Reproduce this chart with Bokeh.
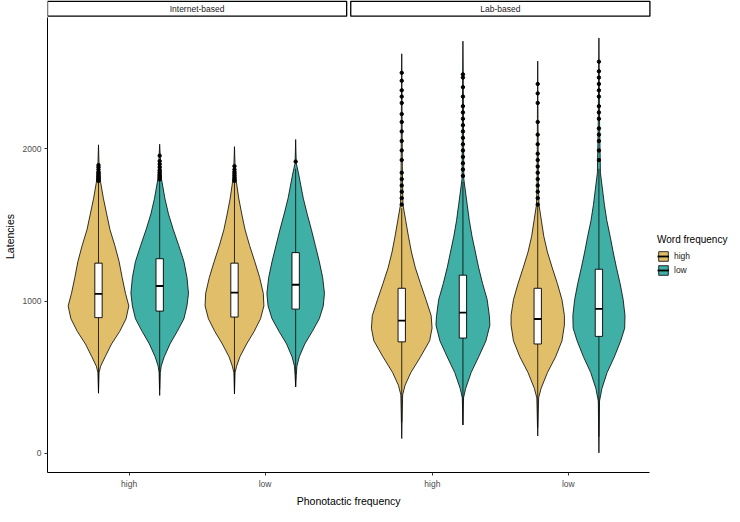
from bokeh.plotting import figure
from bokeh.models import Range1d, FixedTicker, Legend, LegendItem, Title
from bokeh.core.properties import value
from bokeh.embed import file_html
from bokeh.resources import INLINE

# facets, x categories and fill groups
panels = ["Internet-based", "Lab-based"]
phono = ["high", "low"]
word = ["high", "low"]
colors = {"high": "#E1BE6A", "low": "#40B0A6"}

# violin outlines: latency and relative half-width
# key = (panel, phonotactic, word)
vio_y = {
    ("Internet-based", "high", "high"): [396, 531, 573, 635, 719, 802, 885, 969, 1052, 1156, 1260, 1365, 1469, 1573, 1677, 1781, 1890, 2027],
    ("Internet-based", "high", "low"): [381, 531, 573, 635, 719, 802, 885, 969, 1052, 1156, 1260, 1365, 1469, 1573, 1677, 1802, 1950, 2031],
    ("Internet-based", "low", "high"): [392, 531, 573, 635, 719, 802, 885, 969, 1052, 1156, 1260, 1365, 1469, 1573, 1677, 1802, 1890, 2015],
    ("Internet-based", "low", "low"): [437, 512, 573, 635, 719, 802, 885, 969, 1052, 1156, 1260, 1365, 1469, 1573, 1677, 1844, 1906, 2062],
    ("Lab-based", "high", "high"): [98, 385, 448, 531, 635, 740, 823, 906, 1010, 1115, 1219, 1323, 1427, 1531, 1635, 1750, 1887, 2300, 2625],
    ("Lab-based", "high", "low"): [187, 365, 427, 531, 635, 740, 844, 906, 1010, 1115, 1219, 1323, 1427, 1531, 1635, 1802, 2100, 2490, 2708],
    ("Lab-based", "low", "high"): [115, 365, 427, 531, 635, 740, 844, 906, 1010, 1115, 1219, 1323, 1427, 1531, 1635, 1800, 2200, 2577],
    ("Lab-based", "low", "low"): [4, 344, 427, 531, 635, 740, 823, 906, 1010, 1115, 1219, 1323, 1427, 1531, 1635, 1844, 2200, 2729],
}
vio_w = {
    ("Internet-based", "high", "high"): [0, 0.02, 0.07, 0.22, 0.43, 0.70, 0.91, 1.00, 0.89, 0.78, 0.68, 0.54, 0.38, 0.27, 0.16, 0.07, 0.02, 0],
    ("Internet-based", "high", "low"): [0, 0.02, 0.05, 0.15, 0.34, 0.58, 0.80, 0.90, 0.95, 0.90, 0.80, 0.63, 0.45, 0.29, 0.17, 0.06, 0.02, 0],
    ("Internet-based", "low", "high"): [0, 0.02, 0.07, 0.18, 0.40, 0.65, 0.86, 0.97, 0.95, 0.83, 0.67, 0.50, 0.35, 0.24, 0.14, 0.05, 0.02, 0],
    ("Internet-based", "low", "low"): [0, 0.02, 0.04, 0.12, 0.30, 0.55, 0.78, 0.91, 0.95, 0.89, 0.78, 0.65, 0.52, 0.38, 0.25, 0.09, 0.02, 0],
    ("Lab-based", "high", "high"): [0, 0.03, 0.11, 0.30, 0.62, 0.92, 1.00, 0.97, 0.80, 0.62, 0.45, 0.32, 0.22, 0.13, 0.04, 0.03, 0.02, 0.01, 0],
    ("Lab-based", "high", "low"): [0, 0.02, 0.09, 0.27, 0.52, 0.76, 0.89, 0.87, 0.80, 0.65, 0.52, 0.41, 0.30, 0.21, 0.14, 0.03, 0.02, 0.01, 0],
    ("Lab-based", "low", "high"): [0, 0.03, 0.11, 0.32, 0.59, 0.80, 0.88, 0.88, 0.80, 0.65, 0.48, 0.32, 0.20, 0.12, 0.04, 0.02, 0.01, 0],
    ("Lab-based", "low", "low"): [0, 0.02, 0.10, 0.27, 0.51, 0.72, 0.85, 0.86, 0.80, 0.70, 0.58, 0.47, 0.37, 0.26, 0.18, 0.05, 0.02, 0],
}

# box plot stats: lower whisker, q1, median, q3, upper whisker
box_stats = {
    ("Internet-based", "high", "high"): [396, 892, 1048, 1250, 1785],
    ("Internet-based", "high", "low"): [420, 935, 1100, 1279, 1790],
    ("Internet-based", "low", "high"): [392, 896, 1056, 1250, 1780],
    ("Internet-based", "low", "low"): [437, 948, 1108, 1319, 1870],
    ("Lab-based", "high", "high"): [205, 733, 873, 1085, 1610],
    ("Lab-based", "high", "low"): [187, 758, 925, 1171, 1785],
    ("Lab-based", "low", "high"): [170, 719, 883, 1085, 1630],
    ("Lab-based", "low", "low"): [110, 769, 950, 1210, 1870],
}

# outliers
outliers = {
    ("Internet-based", "high", "high"): [1790, 1800, 1810, 1820, 1830, 1840, 1850, 1865, 1880, 1894],
    ("Internet-based", "high", "low"): [1800, 1815, 1830, 1845, 1860, 1880, 1900, 1920, 1956],
    ("Internet-based", "low", "high"): [1790, 1800, 1812, 1825, 1838, 1850, 1865, 1887],
    ("Internet-based", "low", "low"): [1917],
    ("Lab-based", "high", "high"): [1635, 1677, 1719, 1760, 1802, 1844, 1927, 1990, 2052, 2115, 2177, 2229, 2302, 2344, 2385, 2448, 2500],
    ("Lab-based", "high", "low"): [1823, 1865, 1906, 1948, 1990, 2031, 2073, 2115, 2156, 2198, 2240, 2281, 2344, 2406, 2469, 2490],
    ("Lab-based", "low", "high"): [1635, 1677, 1719, 1760, 1802, 1844, 1885, 1927, 1969, 2031, 2094, 2177, 2302, 2365, 2427],
    ("Lab-based", "low", "low"): [1927, 1990, 2052, 2094, 2135, 2198, 2240, 2281, 2344, 2385, 2427, 2469, 2510, 2573],
}

y_ticks = [0, 1000, 2000]

# layout in x units (ggplot style discrete scale, two panels side by side)
panel_gap = 0.03
panel_span = 2.2
dodge = 0.225
max_half = 0.223
box_half = 0.027
x_lo = 0.4
x_panels_end = x_lo + 2 * panel_span + panel_gap
legend_room = 0.6
y_lo, panel_top, y_hi = -125, 2862, 2975
FRAME_W, FRAME_H = 684, 472

FONT = "Liberation Sans"

p = figure(frame_width=FRAME_W, frame_height=FRAME_H, x_range=Range1d(x_lo, x_panels_end + legend_room),
           y_range=Range1d(y_lo, y_hi), output_backend="svg", toolbar_location=None,
           min_border_left=4, min_border_top=0, min_border_bottom=2, min_border_right=0)
p.outline_line_color = None
p.xgrid.visible = False
p.ygrid.visible = False
p.background_fill_color = "white"

def x_of(panel, ph, wf):
    base = panels.index(panel) * (panel_span + panel_gap) + 1 + phono.index(ph)
    return base + (-dodge if wf == "high" else dodge)

key_renderers = {}
for key, ys in vio_y.items():
    panel, ph, wf = key
    xc = x_of(panel, ph, wf)
    ws = vio_w[key]
    xs = [xc + w * max_half for w in ws] + [xc - w * max_half for w in ws[::-1]]
    r = p.patch(xs, ys + ys[::-1], fill_color=colors[wf], line_color="black", line_width=0.8)
    key_renderers.setdefault(wf, [r])

for key, (lo, q1, med, q3, hi) in box_stats.items():
    panel, ph, wf = key
    xc = x_of(panel, ph, wf)
    p.segment(x0=[xc, xc], y0=[lo, q3], x1=[xc, xc], y1=[q1, hi], line_color="black", line_width=0.8)
    p.quad(left=[xc - box_half], right=[xc + box_half], bottom=[q1], top=[q3],
           fill_color="white", line_color="black", line_width=0.9)
    rm = p.segment(x0=[xc - box_half], y0=[med], x1=[xc + box_half], y1=[med], line_color="black", line_width=1.8)
    if len(key_renderers[wf]) == 1:
        key_renderers[wf].append(rm)
    ov = outliers[key]
    p.scatter(x=[xc] * len(ov), y=ov, size=3.4, color="black")

# facet strips
strip_left = [x_lo + i * (panel_span + panel_gap) for i in range(len(panels))]
strip_right = [l + panel_span for l in strip_left]
p.quad(left=strip_left, right=strip_right, bottom=[panel_top + 10] * 2, top=[y_hi - 5] * 2,
       fill_color="white", line_color="black", line_width=1.3)
p.text(x=[(l + r) / 2 for l, r in zip(strip_left, strip_right)], y=[(panel_top + y_hi) / 2 + 2] * 2,
       text=panels, text_align="center", text_baseline="middle", text_font_size="8.5px",
       text_color="#1A1A1A", text_font=value(FONT))

# axes
x_ticks = [x_of(pn, ph, "high") + dodge for pn in panels for ph in phono]
p.xaxis.ticker = FixedTicker(ticks=x_ticks)
p.xaxis.major_label_overrides = {t: ph for t, ph in zip(x_ticks, phono * 2)}
p.xaxis.bounds = (x_lo, x_panels_end)
p.yaxis.ticker = FixedTicker(ticks=y_ticks)
p.yaxis.axis_label = "Latencies"
p.yaxis.bounds = (y_lo, panel_top)
for ax in (p.xaxis, p.yaxis):
    ax.axis_line_color = "black"
    ax.axis_line_width = 1
    ax.major_tick_line_color = "#333333"
    ax.major_tick_out = 3
    ax.major_tick_in = 0
    ax.minor_tick_line_color = None
    ax.major_label_text_font = FONT
    ax.major_label_text_font_size = "8.5px"
    ax.major_label_text_color = "#4D4D4D"
    ax.major_label_standoff = 3
    ax.axis_label_text_font = FONT
    ax.axis_label_text_font_size = "10.5px"
    ax.axis_label_text_font_style = "normal"
    ax.axis_label_text_color = "black"
    ax.axis_label_standoff = 4

# x title centred under the two panels only (left aligned, shifted by half its width)
px_per_unit = FRAME_W / (x_panels_end + legend_room - x_lo)
title_mid = (x_panels_end - x_lo) / 2 * px_per_unit
p.add_layout(Title(text="Phonotactic frequency", align="left", offset=title_mid - 52,
                   text_font=FONT, text_font_size="10.5px", text_font_style="normal",
                   text_color="black", standoff=2), "below")

# legend
items = [LegendItem(label=wf, renderers=key_renderers[wf]) for wf in word]
legend = Legend(items=items, title="Word frequency",
                location=(int((x_panels_end - x_lo) * px_per_unit) + 8, 196))
legend.title_text_font = FONT
legend.title_text_font_size = "10px"
legend.title_text_font_style = "normal"
legend.title_text_color = "black"
legend.label_text_font = FONT
legend.label_text_font_size = "8.5px"
legend.label_text_color = "#1A1A1A"
legend.glyph_width = 12
legend.glyph_height = 12
legend.label_standoff = 5
legend.spacing = 2
legend.padding = 2
legend.margin = 0
legend.border_line_color = None
legend.background_fill_alpha = 0
p.add_layout(legend)

open("out.html", "w").write(file_html(p, INLINE))
